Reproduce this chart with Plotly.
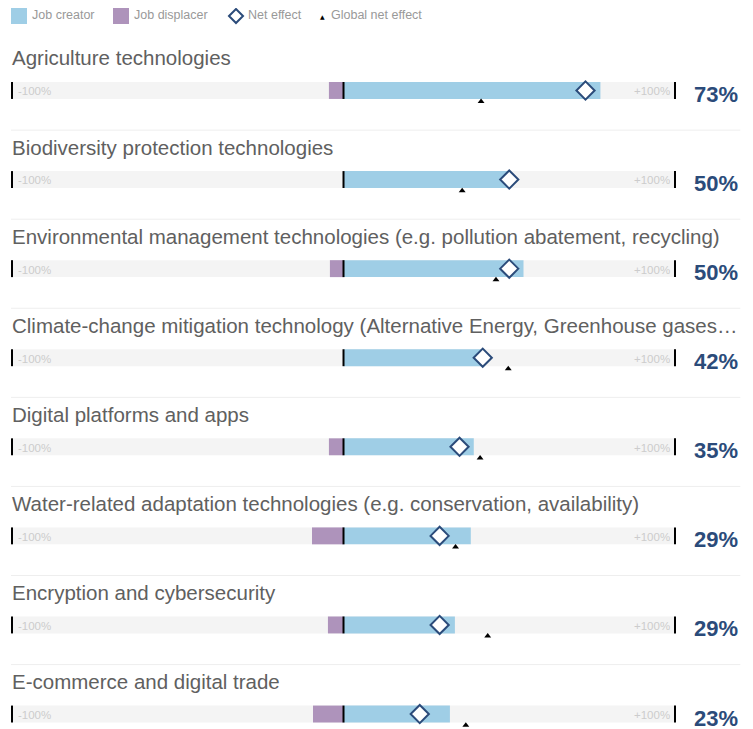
import plotly.graph_objects as go

technologies = [
    "Agriculture technologies",
    "Biodiversity protection technologies",
    "Environmental management technologies (e.g. pollution abatement, recycling)",
    "Climate-change mitigation technology (Alternative Energy, Greenhouse gases…",
    "Digital platforms and apps",
    "Water-related adaptation technologies (e.g. conservation, availability)",
    "Encryption and cybersecurity",
    "E-commerce and digital trade",
]
job_creator = [77.5, 50, 54.3, 42.3, 39.3, 38.4, 33.6, 32.1]
job_displacer = [4.4, 0, 4.1, 0, 4.4, 9.5, 4.7, 9.2]
net_effect = [73, 50, 50, 42, 35, 29, 29, 23]
global_net_effect = [41.5, 35.8, 46, 49.7, 41.2, 33.8, 43.5, 36.9]

BLUE = "#9fcee6"
PURPLE = "#ae93bb"
NAVY = "#2b4b7a"
FONT = "Liberation Sans, Arial, sans-serif"

W, H = 745, 721  # page body adds an 8px margin
rows = list(range(len(technologies)))
bar_h = 0.19

fig = go.Figure()

# grey track -100..+100
fig.add_trace(go.Bar(
    y=rows, x=[200] * len(rows), base=[-100] * len(rows), orientation="h",
    width=bar_h, marker=dict(color="#f4f4f4", line=dict(width=0)),
    showlegend=False, hoverinfo="skip",
))
fig.add_trace(go.Bar(
    y=rows, x=job_creator, base=[0] * len(rows), orientation="h",
    width=bar_h, marker=dict(color=BLUE, line=dict(width=0)),
    name="Job creator", showlegend=False,
))
fig.add_trace(go.Bar(
    y=rows, x=job_displacer, base=[-d for d in job_displacer], orientation="h",
    width=bar_h, marker=dict(color=PURPLE, line=dict(width=0)),
    name="Job displacer", showlegend=False,
))
fig.add_trace(go.Scatter(
    y=rows, x=net_effect, mode="markers", name="Net effect", showlegend=False,
    marker=dict(symbol="diamond", size=14, color="white",
                line=dict(color=NAVY, width=2)),
))
fig.add_trace(go.Scatter(
    y=[r + 0.125 for r in rows], x=global_net_effect, mode="markers",
    name="Global net effect", showlegend=False,
    marker=dict(symbol="triangle-up", size=6, color="black"),
))

# frame ticks, titles, labels
for i, name in enumerate(technologies):
    for xv in (-100, 0, 100):
        fig.add_shape(type="line", x0=xv, x1=xv, y0=i - bar_h / 2, y1=i + bar_h / 2,
                      xref="x", yref="y", line=dict(color="black", width=2), layer="above")
    fig.add_annotation(x=0.003, xref="paper", y=i - 0.365, yref="y", text=name,
                       showarrow=False, xanchor="left", yanchor="middle",
                       font=dict(family=FONT, size=20.5, color="#606060"))
    fig.add_annotation(x=-98.9, y=i + 0.01, text="-100%", showarrow=False,
                       xanchor="left", yanchor="middle",
                       font=dict(family=FONT, size=11.5, color="#cccccc"))
    fig.add_annotation(x=99.2, y=i + 0.01, text="+100%", showarrow=False,
                       xanchor="right", yanchor="middle",
                       font=dict(family=FONT, size=11.5, color="#cccccc"))
    fig.add_annotation(x=112.5, y=i + 0.045, text="<b>%d%%</b>" % net_effect[i],
                       showarrow=False, xanchor="center", yanchor="middle",
                       font=dict(family=FONT, size=22, color=NAVY))
    if i < len(technologies) - 1:
        fig.add_shape(type="line", x0=0.004, x1=0.983, xref="paper",
                      y0=i + 0.445, y1=i + 0.445, yref="y",
                      line=dict(color="#eeeeee", width=1))

# legend row drawn by hand (pixel positions in the figure)
def px(x):
    return x / W

def py(y):
    return 1 - y / H

legend_font = dict(family=FONT, size=12.5, color="#999999")
fig.add_shape(type="rect", xref="paper", yref="paper", x0=px(3), x1=px(19),
              y0=py(0), y1=py(16), fillcolor=BLUE, line=dict(width=0))
fig.add_annotation(xref="paper", yref="paper", x=px(22), y=py(7.5), text="Job creator",
                   showarrow=False, xanchor="left", yanchor="middle", font=legend_font)
fig.add_shape(type="rect", xref="paper", yref="paper", x0=px(105), x1=px(121),
              y0=py(0), y1=py(16), fillcolor=PURPLE, line=dict(width=0))
fig.add_annotation(xref="paper", yref="paper", x=px(124), y=py(7.5), text="Job displacer",
                   showarrow=False, xanchor="left", yanchor="middle", font=legend_font)
fig.add_shape(type="path", xref="paper", yref="paper", xsizemode="pixel", ysizemode="pixel",
              xanchor=px(228), yanchor=py(8), path="M-7,0 L0,7 L7,0 L0,-7 Z",
              fillcolor="white", line=dict(color=NAVY, width=2))
fig.add_annotation(xref="paper", yref="paper", x=px(238), y=py(7.5), text="Net effect",
                   showarrow=False, xanchor="left", yanchor="middle", font=legend_font)
fig.add_annotation(xref="paper", yref="paper", x=px(314.5), y=py(8.5), text="▲",
                   showarrow=False, xanchor="center", yanchor="middle",
                   font=dict(family="DejaVu Sans", size=6, color="black"))
fig.add_annotation(xref="paper", yref="paper", x=px(321), y=py(7.5), text="Global net effect",
                   showarrow=False, xanchor="left", yanchor="middle", font=legend_font)

fig.update_layout(
    width=W, height=H,
    margin=dict(l=0, r=0, t=0, b=0),
    paper_bgcolor="white", plot_bgcolor="white",
    barmode="overlay",
    showlegend=False,
    font=dict(family=FONT),
    xaxis=dict(range=[-101.21, 123.53], visible=False, fixedrange=True),
    yaxis=dict(range=[7.168, -0.926], visible=False, fixedrange=True),
)

fig.write_html("out.html")
